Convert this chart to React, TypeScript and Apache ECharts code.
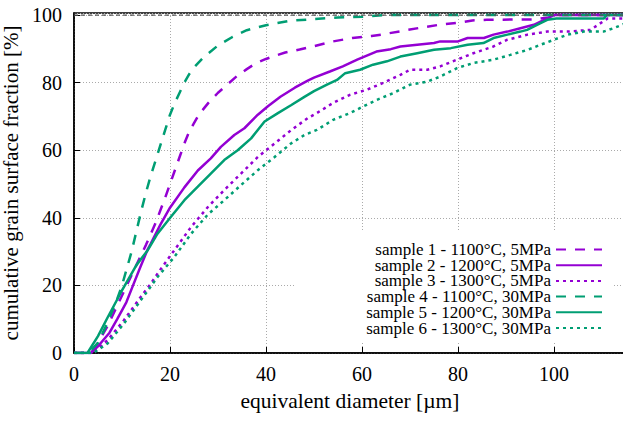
import React, { useEffect, useRef } from "react";
import * as echarts from "echarts";

const seriesNames = [
  "sample 1 - 1100°C, 5MPa",
  "sample 2 - 1200°C, 5MPa",
  "sample 3 - 1300°C, 5MPa",
  "sample 4 - 1100°C, 30MPa",
  "sample 5 - 1200°C, 30MPa",
  "sample 6 - 1300°C, 30MPa",
];

// [diameter µm, cumulative %]
const sample1: number[][] = [
  [0, 0], [3.5, 0], [5, 3], [7, 8], [9, 14], [11, 20], [13, 26], [15, 32], [17, 38.5],
  [19, 46], [21, 54], [22, 58], [23, 62], [24, 65.5], [25, 68], [26, 70.5], [28, 74],
  [30, 77], [32, 79.5], [34, 82], [36, 84], [38, 85.8], [40, 87], [42, 88], [44, 88.9],
  [47, 89.8], [50, 90.8], [54, 92.2], [58, 93.2], [62, 93.8], [64, 94.2], [68, 95.2],
  [72, 96.2], [76, 97.1], [80, 97.7], [83, 98.4], [86, 98.6], [96, 98.7], [99, 99.3],
  [100, 100], [115, 100],
];
const sample2: number[][] = [
  [0, 0], [3.5, 0], [5, 2], [7.4, 6], [9, 10], [10.9, 15], [12.3, 20], [13.7, 25],
  [15.3, 30.5], [16, 32.4], [18, 38], [20, 43], [23, 49], [25.8, 54], [28.5, 57.6],
  [30.6, 61], [33.4, 64.5], [35.5, 66.5], [38.3, 70.5], [40.4, 73], [43, 75.8],
  [46, 78.5], [48.7, 80.6], [50, 81.5], [53.3, 83.3], [56, 84.8], [59, 86.8], [63, 89.2],
  [66, 89.9], [68, 90.7], [71.5, 91.2], [75, 91.7], [76.3, 92.2], [80, 92.2], [82, 93.2],
  [85.4, 93.2], [87.4, 94.2], [90.3, 95.1], [93, 96.1], [95.8, 97.1], [98.6, 99],
  [100, 100], [115, 100],
];
const sample3: number[][] = [
  [0, 0], [4, 0], [7, 3.8], [10.4, 9.7], [13.9, 16.6], [16, 20.5], [17.4, 23.5],
  [20.9, 30.4], [24.4, 37.3], [26, 40], [27.9, 43.2], [31.3, 48.2], [34.8, 53.1],
  [38.3, 58], [41.8, 62], [45.2, 65.9], [48.7, 69.5], [50.6, 71], [54, 74], [57.5, 76.4],
  [61, 77.9], [64.4, 79.9], [68, 82.3], [70, 83.8], [73.6, 83.8], [76.3, 84.8],
  [79.8, 86.8], [83.2, 88.7], [87.4, 90.7], [90.3, 92.7], [94.5, 94.2], [98.6, 95.1],
  [102.8, 95.1], [107.6, 95.6], [109.7, 97.6], [111.2, 99], [115, 99],
];
const sample4: number[][] = [
  [0, 0], [3, 0], [5, 3], [7, 9], [9, 16], [10, 20], [11, 25], [12, 30], [13, 36],
  [14, 42], [15, 47.5], [16, 52.5], [17, 57], [18, 61.5], [19, 66], [20, 70.5], [21, 74],
  [22, 77], [23, 80], [24, 82.5], [25, 84.5], [27, 87.5], [30, 91], [33, 93.5],
  [36, 95.5], [40, 97], [45, 98.3], [50, 98.8], [55, 99.3], [60, 99.5], [65, 100],
  [115, 100],
];
const sample5: number[][] = [
  [0, 0], [2.8, 0], [5, 5], [7, 10.5], [10, 18.5], [13, 26], [15.4, 30.5], [17.4, 35.3],
  [20.2, 40.3], [23, 45.2], [25.8, 49.2], [28.5, 53.1], [31.3, 57.1], [34.1, 60],
  [36.9, 63.5], [39.7, 68.5], [42.4, 70.9], [45.2, 73.3], [48, 75.8], [50, 77.5],
  [52.7, 79.4], [54.8, 80.8], [56.5, 82.8], [59.6, 83.8], [62.3, 85.3], [65.2, 86.3],
  [68, 87.7], [71.5, 88.7], [75, 89.7], [78.5, 90.2], [82, 91.2], [85.3, 91.7],
  [87.4, 93.2], [90.3, 94.2], [93, 95.1], [94.4, 95.6], [97.2, 97.6], [98.6, 98.6],
  [100.5, 99], [110.4, 99], [111, 100], [115, 100],
];
const sample6: number[][] = [
  [0, 0], [4, 0], [7, 2.8], [10.4, 8.7], [13.9, 15.6], [16, 19.7], [17.4, 22.5],
  [20.9, 28.4], [24.4, 35.3], [27.9, 41], [31.3, 45.2], [34.8, 49.7], [38.3, 54.1],
  [41.8, 58], [45.2, 62], [48, 64.5], [50.6, 66], [54, 69], [57.5, 71], [60.2, 72.9],
  [63.1, 74.9], [66.5, 76.9], [70, 79.4], [73.6, 80.3], [76.3, 81.8], [79.8, 84.3],
  [83.2, 85.8], [87.4, 86.8], [90.9, 88.2], [94.5, 89.7], [97.2, 91.2], [100, 92.7],
  [102.8, 94.2], [106.2, 95.1], [110.3, 95.1], [112.4, 96.1], [115, 97.6],
];
const refLine: number[][] = [[0, 100], [115, 100]];

const FONT = "'Liberation Serif', 'DejaVu Serif', serif";
const PURPLE = "#9400d3";
const GREEN = "#009e73";

export default function App() {
  const ref = useRef<HTMLDivElement>(null);
  useEffect(() => {
    if (!ref.current) return;
    const chart = echarts.init(ref.current, undefined, { renderer: "svg" });
    const datasets = [sample1, sample2, sample3, sample4, sample5, sample6];
    const colors = [PURPLE, PURPLE, PURPLE, GREEN, GREEN, GREEN];
    const types: any[] = [[10, 9], "solid", [3, 4], [10, 9], "solid", [3, 4]];
    const series: any[] = datasets.map((d, i) => ({
      name: seriesNames[i],
      type: "line",
      data: d,
      symbol: "none",
      color: colors[i],
      lineStyle: { color: colors[i], width: 2.5, type: types[i] },
      z: 3,
    }));
    series.push({
      name: "ref",
      type: "line",
      data: refLine,
      symbol: "none",
      silent: true,
      lineStyle: { color: "#555", width: 1.2, type: [4, 3] },
      z: 4,
    });
    chart.setOption({
      animation: false,
      backgroundColor: "#fff",
      textStyle: { fontFamily: FONT },
      grid: {
        left: 74,
        top: 13,
        width: 552,
        height: 340,
        containLabel: false,
        outerBoundsMode: "none",
        show: true,
        borderColor: "#000",
        borderWidth: 1.5,
        backgroundColor: "transparent",
      },
      legend: {
        data: seriesNames,
        orient: "vertical",
        align: "right",
        right: 11,
        top: 232,
        padding: [9, 9, 6, 72],
        itemWidth: 46,
        itemHeight: 14,
        itemGap: -1.3,
        backgroundColor: "#fff",
        itemStyle: { color: "transparent", borderColor: "transparent", borderWidth: 0, opacity: 0 },
        textStyle: { fontFamily: FONT, fontSize: 17, color: "#000", lineHeight: 14 },
        selectedMode: false,
      },
      xAxis: {
        type: "value",
        min: 0,
        max: 115,
        interval: 20,
        name: "equivalent diameter [µm]",
        nameLocation: "middle",
        nameGap: 37,
        nameTextStyle: { fontFamily: FONT, fontSize: 21.5, color: "#000" },
        axisLine: { show: true, lineStyle: { color: "#000", width: 1.5 } },
        axisTick: { show: true, inside: true, length: 6, lineStyle: { color: "#000" } },
        axisLabel: {
          fontFamily: FONT,
          fontSize: 20,
          color: "#000",
          margin: 11,
          showMaxLabel: false,
          formatter: (v: number) => (v % 20 === 0 ? String(v) : ""),
        },
        splitLine: { show: true, lineStyle: { color: "#aaa", type: [1, 2], width: 1 } },
      },
      yAxis: {
        type: "value",
        min: 0,
        max: 100.6,
        interval: 20,
        name: "cumulative grain surface fraction [%]",
        nameLocation: "middle",
        nameGap: 43,
        nameTextStyle: { fontFamily: FONT, fontSize: 21, color: "#000" },
        axisLine: { show: true, lineStyle: { color: "#000", width: 1.5 } },
        axisTick: { show: true, inside: true, length: 6, lineStyle: { color: "#000" } },
        axisLabel: {
          fontFamily: FONT,
          fontSize: 20,
          color: "#000",
          margin: 12,
          showMaxLabel: false,
          formatter: (v: number) => (v % 20 === 0 ? String(v) : ""),
        },
        splitLine: { show: true, lineStyle: { color: "#aaa", type: [1, 2], width: 1 } },
      },
      series,
    });
    return () => chart.dispose();
  }, []);
  return (
    <div
      ref={ref}
      style={{ width: 623, height: 421, position: "fixed", left: 0, top: 0 }}
    />
  );
}
